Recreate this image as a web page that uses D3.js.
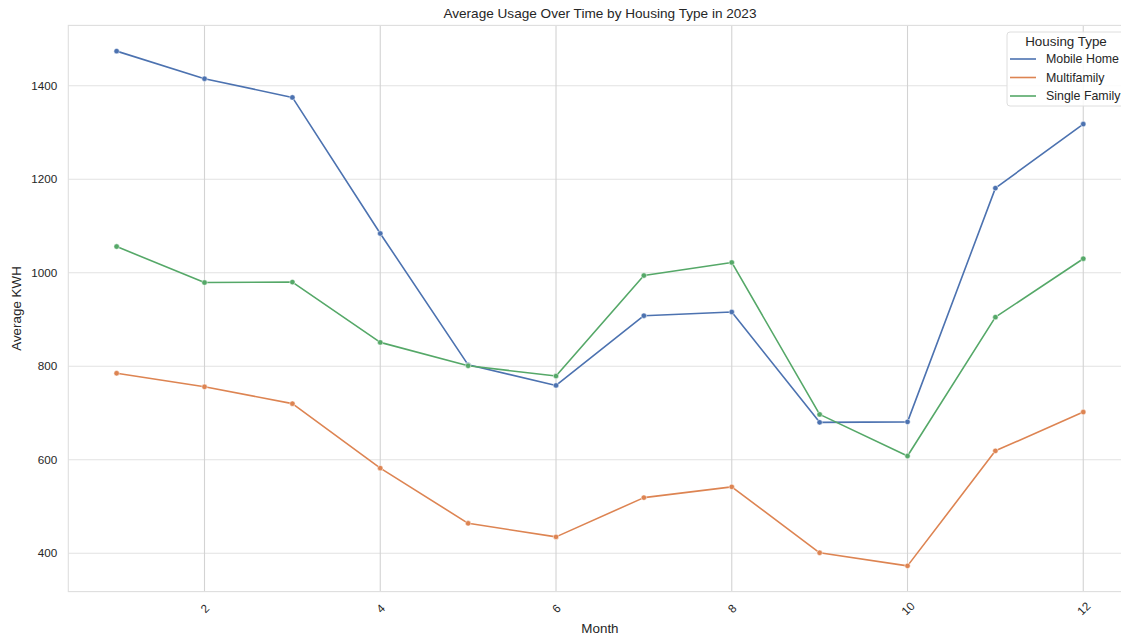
<!DOCTYPE html>
<html>
<head>
<meta charset="utf-8">
<script src="https://cdn.jsdelivr.net/npm/d3@7"></script>
<style>
  html, body { margin: 0; padding: 0; background: #ffffff; overflow: hidden; }
  svg { display: block; font-family: Arial, "Liberation Sans", sans-serif; }
</style>
</head>
<body>
<svg id="chart" width="1121" height="636"></svg>
<script>
const months = [1, 2, 3, 4, 5, 6, 7, 8, 9, 10, 11, 12];
const seriesNames = ["Mobile Home", "Multifamily", "Single Family"];
const mobileHome = [1474, 1415, 1375, 1084, 803, 759, 908, 916, 680, 681, 1181, 1318];
const multifamily = [785, 756, 720, 582, 464, 435, 519, 542, 401, 373, 619, 702];
const singleFamily = [1056, 979, 980, 851, 801, 779, 994, 1022, 697, 608, 905, 1030];
const xTicks = [2, 4, 6, 8, 10, 12];
const yTicks = [400, 600, 800, 1000, 1200, 1400];
const colors = ["#4c72b0", "#dd8452", "#55a868"];
const titleText = "Average Usage Over Time by Housing Type in 2023";
const xLabel = "Month";
const yLabel = "Average KWH";
const legendTitle = "Housing Type";

const seriesValues = [mobileHome, multifamily, singleFamily];
const series = seriesNames.map((name, i) => ({
  name, color: colors[i],
  points: months.map((m, j) => ({ m, v: seriesValues[i][j] }))
}));

const svg = d3.select("#chart");
const plot = { left: 68.3, right: 1131.6, top: 25.4, bottom: 591.6 };

// matplotlib-like 5% margins
const allVals = seriesValues.flat();
const vMin = d3.min(allVals), vMax = d3.max(allVals);
const mMin = d3.min(months), mMax = d3.max(months);
const yPad = (vMax - vMin) * 0.05, xPad = (mMax - mMin) * 0.05;

const x = d3.scaleLinear().domain([mMin - xPad, mMax + xPad]).range([plot.left, plot.right]);
const y = d3.scaleLinear().domain([vMin - yPad, vMax + yPad]).range([plot.bottom, plot.top]);

const textColor = "#262626";

// grid
const gy = svg.append("g").attr("class", "grid-y");
gy.selectAll("line").data(yTicks).join("line")
  .attr("x1", plot.left).attr("x2", plot.right)
  .attr("y1", d => y(d)).attr("y2", d => y(d))
  .attr("stroke", "#e2e2e2").attr("stroke-width", 1.1);
const gx = svg.append("g").attr("class", "grid-x");
gx.selectAll("line").data(xTicks).join("line")
  .attr("y1", plot.top).attr("y2", plot.bottom)
  .attr("x1", d => x(d)).attr("x2", d => x(d))
  .attr("stroke", "#d3d3d3").attr("stroke-width", 1.1);

// frame
svg.append("rect")
  .attr("x", plot.left).attr("y", plot.top)
  .attr("width", plot.right - plot.left).attr("height", plot.bottom - plot.top)
  .attr("fill", "none").attr("stroke", "#dedede").attr("stroke-width", 1.1);

// axes (using d3 axis for tick placement)
const yAxis = d3.axisLeft(y).tickValues(yTicks).tickSize(0).tickPadding(11).tickFormat(d3.format("d"));
const yg = svg.append("g").attr("transform", `translate(${plot.left},0)`).call(yAxis);
yg.select(".domain").remove();
yg.selectAll("text").attr("fill", textColor).style("font-size", "11.7px").style("font-family", "Arial, 'Liberation Sans', sans-serif");

const xAxis = d3.axisBottom(x).tickValues(xTicks).tickSize(0).tickPadding(0).tickFormat(d3.format("d"));
const xg = svg.append("g").attr("transform", `translate(0,${plot.bottom})`).call(xAxis);
xg.select(".domain").remove();
xg.selectAll(".tick text")
  .attr("fill", textColor)
  .style("font-size", "11.7px").style("font-family", "Arial, 'Liberation Sans', sans-serif")
  .attr("y", 0).attr("dy", "0.35em")
  .attr("text-anchor", "middle")
  .attr("transform", "translate(0,17) rotate(-45)");

// lines
const line = d3.line().x(d => x(d.m)).y(d => y(d.v));
const lg = svg.append("g").attr("class", "series");
series.forEach(s => {
  lg.append("path").datum(s.points)
    .attr("d", line).attr("fill", "none")
    .attr("stroke", s.color).attr("stroke-width", 1.6)
    .attr("stroke-linejoin", "round").attr("stroke-linecap", "round");
  lg.append("g").selectAll("circle").data(s.points).join("circle")
    .attr("cx", d => x(d.m)).attr("cy", d => y(d.v)).attr("r", 2.7)
    .attr("fill", s.color).attr("stroke", "#ffffff").attr("stroke-width", 0.5);
});

// title and labels
svg.append("text").attr("x", (plot.left + plot.right) / 2).attr("y", 17.5)
  .attr("text-anchor", "middle").attr("fill", textColor)
  .style("font-size", "13.6px").text(titleText);
svg.append("text").attr("x", (plot.left + plot.right) / 2).attr("y", 633)
  .attr("text-anchor", "middle").attr("fill", textColor)
  .style("font-size", "13.4px").text(xLabel);
svg.append("text")
  .attr("transform", `translate(21,${(plot.top + plot.bottom) / 2}) rotate(-90)`)
  .attr("text-anchor", "middle").attr("fill", textColor)
  .style("font-size", "13.4px").text(yLabel);

// legend
const leg = svg.append("g").attr("transform", "translate(1007,32)");
leg.append("rect").attr("x", 0).attr("y", 0).attr("width", 140).attr("height", 74)
  .attr("rx", 3).attr("fill", "#ffffff").attr("fill-opacity", 0.85)
  .attr("stroke", "#dedede").attr("stroke-width", 1);
leg.append("text").attr("x", 59).attr("y", 14).attr("text-anchor", "middle")
  .attr("fill", textColor).style("font-size", "13.4px").text(legendTitle);
series.forEach((s, i) => {
  const yy = 27 + i * 18.5;
  leg.append("line").attr("x1", 3).attr("x2", 29).attr("y1", yy).attr("y2", yy)
    .attr("stroke", s.color).attr("stroke-width", 1.6);
  leg.append("text").attr("x", 39).attr("y", yy).attr("dy", "0.35em")
    .attr("fill", textColor).style("font-size", "12.4px").text(s.name);
});
</script>
</body>
</html>
